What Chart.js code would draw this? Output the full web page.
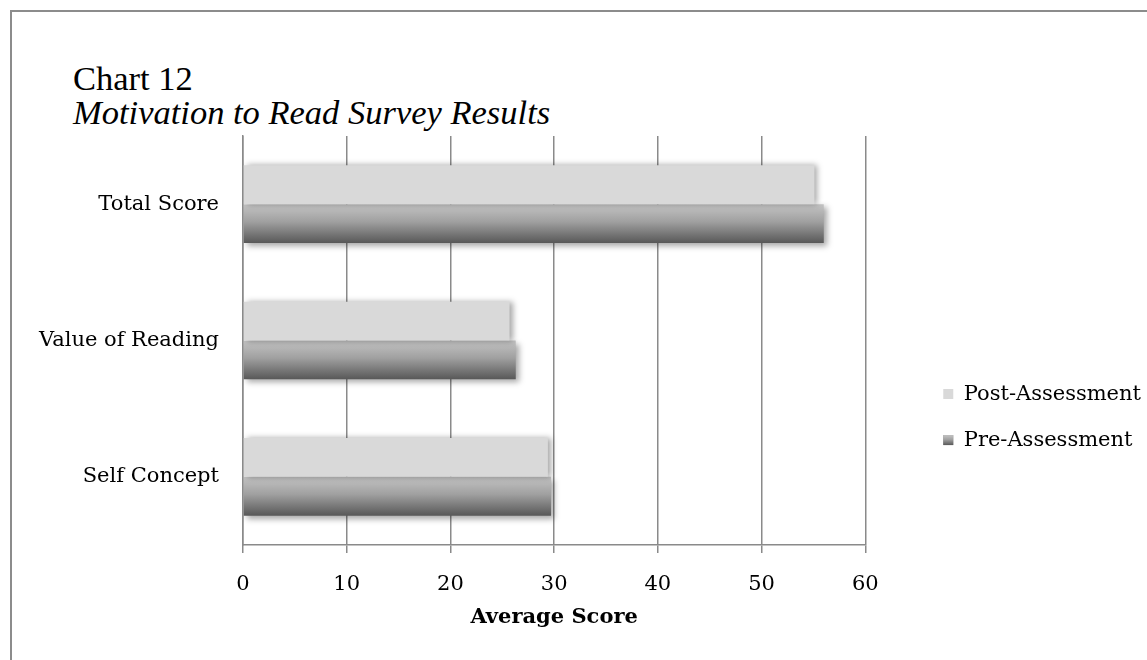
<!DOCTYPE html>
<html>
<head>
<meta charset="utf-8">
<script src="https://cdn.jsdelivr.net/npm/chart.js@4.4.1/dist/chart.umd.min.js"></script>
<style>
  html, body { margin: 0; padding: 0; background: #fff; }
  #wrap { position: relative; width: 1147px; height: 660px; overflow: hidden; }
  #frame { position: absolute; left: 10px; top: 10px; width: 1300px; height: 800px;
           border: 2px solid #8c8c8c; box-sizing: border-box; }
  .ttl { position: absolute; left: 73px; font-family: "Liberation Serif", "Times New Roman", serif;
         font-size: 34.5px; line-height: 1; color: #000; white-space: nowrap; }
  #t1 { top: 61px; }
  #t2 { top: 95px; font-style: italic; }
  #c { position: absolute; left: 0; top: 0; }
</style>
</head>
<body>
<div id="wrap">
  <div id="frame"></div>
  <div id="t1" class="ttl">Chart 12</div>
  <div id="t2" class="ttl">Motivation to Read Survey Results</div>
  <canvas id="c" width="1147" height="660"></canvas>
</div>
<script>
// Survey categories (top to bottom) and average scores per assessment
const categories = ['Total Score', 'Value of Reading', 'Self Concept'];
const postScores = [55.1, 25.7, 29.4];
const preScores = [56.0, 26.3, 29.7];
const seriesNames = ['Post-Assessment', 'Pre-Assessment'];
const xTickValues = [0, 10, 20, 30, 40, 50, 60];

const FONT = '"DejaVu Serif", Georgia, serif';
const GRID = '#8a8a8a';
const POST_FILL = '#d9d9d9';
const PRE_MID = '#8f8f8f';
const LEGEND_SHIFT = 53;

function preGradient(ctx, top, bottom) {
  const g = ctx.createLinearGradient(0, top, 0, bottom);
  g.addColorStop(0, '#c4c4c4');
  g.addColorStop(0.45, '#a0a0a0');
  g.addColorStop(1, '#585858');
  return g;
}

// Shaded bars: soft drop shadow, vertical gradient on the pre-assessment bars
const barShading = {
  id: 'barShading',
  afterLayout(chart) {
    // move the legend block a little further from the plot area
    const lg = chart.legend;
    if (lg) { lg.left += LEGEND_SHIFT; lg.right += LEGEND_SHIFT; }
  },
  beforeDatasetDraw(chart, args) {
    const ctx = chart.ctx;
    ctx.save();
    ctx.shadowColor = 'rgba(0,0,0,0.35)';
    ctx.shadowBlur = 6;
    ctx.shadowOffsetX = 3;
    ctx.shadowOffsetY = args.index === 1 ? 3 : 0;
    if (args.index === 1) {
      args.meta.data.forEach(el => {
        const h = el.height;
        el.options = Object.assign({}, el.options, {
          backgroundColor: preGradient(ctx, el.y - h / 2, el.y + h / 2)
        });
      });
    }
  },
  afterDatasetDraw(chart) {
    chart.ctx.restore();
  },
  afterDraw(chart) {
    // repaint the pre-assessment legend swatch with the same gradient
    const lg = chart.legend;
    if (!lg || !lg.legendHitBoxes || !lg.legendHitBoxes[1]) return;
    const hb = lg.legendHitBoxes[1];
    const o = lg.options.labels;
    const fs = o.font.size;
    const bw = o.boxWidth, bh = o.boxHeight;
    const x = lg.left + o.padding;
    const y = hb.top + Math.max((fs - bh) / 2, 0);
    const ctx = chart.ctx;
    ctx.save();
    ctx.fillStyle = preGradient(ctx, y, y + bh);
    ctx.fillRect(x, y, bw, bh);
    ctx.restore();
  }
};

new Chart(document.getElementById('c'), {
  type: 'bar',
  data: {
    labels: categories,
    datasets: [
      { label: seriesNames[0], data: postScores, backgroundColor: POST_FILL,
        borderWidth: 0, categoryPercentage: 0.57, barPercentage: 1.0 },
      { label: seriesNames[1], data: preScores, backgroundColor: PRE_MID,
        borderWidth: 0, categoryPercentage: 0.57, barPercentage: 1.0 }
    ]
  },
  options: {
    indexAxis: 'y',
    responsive: false,
    animation: false,
    layout: { padding: { left: 0, right: 49, top: 136, bottom: 0 } },
    plugins: {
      tooltip: { enabled: false },
      legend: {
        position: 'right',
        align: 'center',
        title: { display: true, text: '', padding: { top: 0, bottom: 37 }, font: { size: 1 } },
        labels: {
          font: { family: FONT, size: 21 },
          color: '#000',
          boxWidth: 10,
          boxHeight: 10,
          padding: 25
        }
      }
    },
    scales: {
      x: {
        min: 0,
        max: 60,
        afterBuildTicks(scale) { scale.ticks = xTickValues.map(v => ({ value: v })); },
        afterFit(scale) { scale.height = 115; },
        grid: { color: GRID, lineWidth: 1.5, tickLength: 8, drawTicks: true, tickColor: GRID },
        border: { display: true, color: GRID, width: 1.5 },
        ticks: { font: { family: FONT, size: 21 }, color: '#000', padding: 19 },
        title: {
          display: true,
          text: 'Average Score',
          font: { family: FONT, size: 21, weight: 'bold' },
          color: '#000',
          padding: { top: 0, bottom: 30 }
        }
      },
      y: {
        afterFit(scale) { scale.width = 243; },
        grid: { display: false, drawTicks: false },
        border: { display: true, color: GRID, width: 1.5 },
        ticks: { font: { family: FONT, size: 21 }, color: '#000', padding: 24 }
      }
    }
  },
  plugins: [barShading]
});
</script>
</body>
</html>
